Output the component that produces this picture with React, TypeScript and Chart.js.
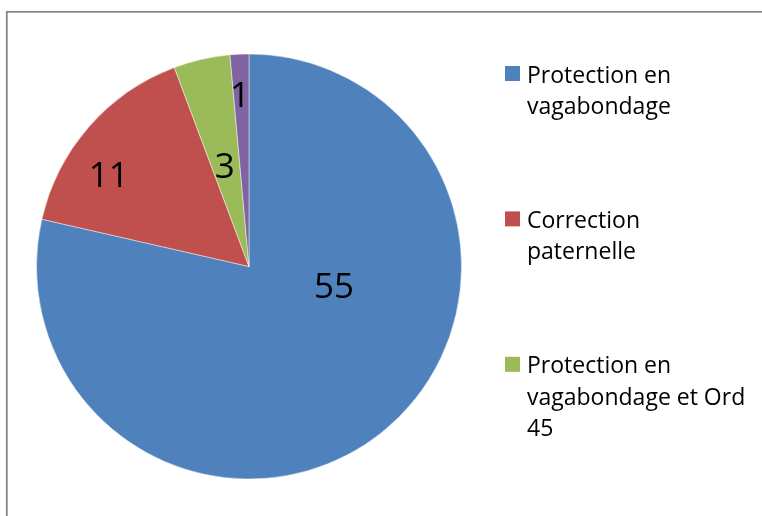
import { useEffect, useRef } from "react";
import { Chart, ArcElement, PieController } from "chart.js";

Chart.register(ArcElement, PieController);

// Category names (multi-line, as shown in the legend)
const categories: string[][] = [
  ["Protection en", "vagabondage"],
  ["Correction", "paternelle"],
  ["Protection en", "vagabondage et Ord", "45"],
  ["Ord 45"],
];

// Number of cases per category
const counts: number[] = [55, 11, 3, 1];

// Slice colours
const sliceColors: string[] = ["#4F81BD", "#C0504D", "#9BBB59", "#8064A2"];

// How many categories the legend lists
const legendCount = 3;

const FONT = "'Open Sans', 'DejaVu Sans', sans-serif";

// Outer frame: left and top rules of the chart box
const frame = {
  id: "frame",
  beforeDraw(chart: any) {
    const { ctx, width, height } = chart;
    ctx.save();
    ctx.strokeStyle = "#878787";
    ctx.lineWidth = 1.8;
    ctx.beginPath();
    ctx.moveTo(6.8, height + 2);
    ctx.lineTo(6.8, 11.8);
    ctx.lineTo(width + 2, 11.8);
    ctx.stroke();
    ctx.restore();
  },
};

// Value labels placed inside each slice
const sliceLabels = {
  id: "sliceLabels",
  afterDatasetsDraw(chart: any, _args: any, opts: any) {
    const ctx = chart.ctx;
    const meta = chart.getDatasetMeta(0);
    const values = chart.data.datasets[0].data;
    ctx.save();
    ctx.font = `${opts.size}px ${FONT}`;
    ctx.fillStyle = opts.color;
    ctx.textAlign = "center";
    ctx.textBaseline = "alphabetic";
    meta.data.forEach((arc: any, i: number) => {
      const { x, y, startAngle, endAngle, outerRadius } = arc.getProps(
        ["x", "y", "startAngle", "endAngle", "outerRadius"],
        true
      );
      const p = opts.placement[i];
      const a = startAngle + (endAngle - startAngle) * p.along;
      const r = outerRadius * p.radial;
      ctx.fillText(
        String(values[i]),
        x + Math.cos(a) * r,
        y + Math.sin(a) * r + opts.size * 0.357
      );
    });
    ctx.restore();
  },
};

// Right-hand legend with wrapped entries, evenly spaced
const sideLegend = {
  id: "sideLegend",
  afterDraw(chart: any, _args: any, opts: any) {
    const ctx = chart.ctx;
    const labels = chart.data.labels as string[][];
    const colors = chart.data.datasets[0].backgroundColor as string[];
    ctx.save();
    ctx.font = `${opts.size}px ${FONT}`;
    ctx.textAlign = "left";
    ctx.textBaseline = "alphabetic";
    for (let i = 0; i < opts.count; i++) {
      const top = opts.top + i * opts.step;
      ctx.fillStyle = colors[i];
      ctx.fillRect(opts.left, top, opts.box, opts.box);
      ctx.fillStyle = opts.color;
      labels[i].forEach((line, j) => {
        ctx.fillText(line, opts.textLeft, top + opts.firstBaseline + j * opts.lineHeight);
      });
    }
    ctx.restore();
  },
};

export default function App() {
  const canvasRef = useRef<HTMLCanvasElement | null>(null);

  useEffect(() => {
    if (!canvasRef.current) return;
    const chart = new Chart(canvasRef.current, {
      type: "pie",
      data: {
        labels: categories as any,
        datasets: [
          {
            data: counts,
            backgroundColor: sliceColors,
            borderColor: "rgba(255,255,255,0.45)",
            borderWidth: 1,
          },
        ],
      },
      options: {
        responsive: false,
        animation: false,
        events: [],
        layout: { padding: { left: 36, top: 53.5, right: 300, bottom: 36.5 } },
        plugins: {
          legend: { display: false },
          tooltip: { enabled: false },
          sliceLabels: {
            size: 35,
            color: "#000",
            placement: [
              { along: 0.362, radial: 0.41 },
              { along: 0.363, radial: 0.79 },
              { along: 0.465, radial: 0.49 },
              { along: 0.42, radial: 0.81 },
            ],
          },
          sideLegend: {
            count: legendCount,
            size: 23,
            color: "#000",
            left: 505,
            top: 66,
            step: 145.4,
            box: 15,
            textLeft: 527,
            firstBaseline: 16.5,
            lineHeight: 31.5,
          },
        } as any,
      },
      plugins: [frame, sliceLabels, sideLegend],
    });
    return () => chart.destroy();
  }, []);

  return (
    <div
      style={{
        position: "fixed",
        left: 0,
        top: 0,
        width: 762,
        height: 516,
        background: "#fff",
      }}
    >
      <canvas ref={canvasRef} width={762} height={516} style={{ display: "block" }} />
    </div>
  );
}
